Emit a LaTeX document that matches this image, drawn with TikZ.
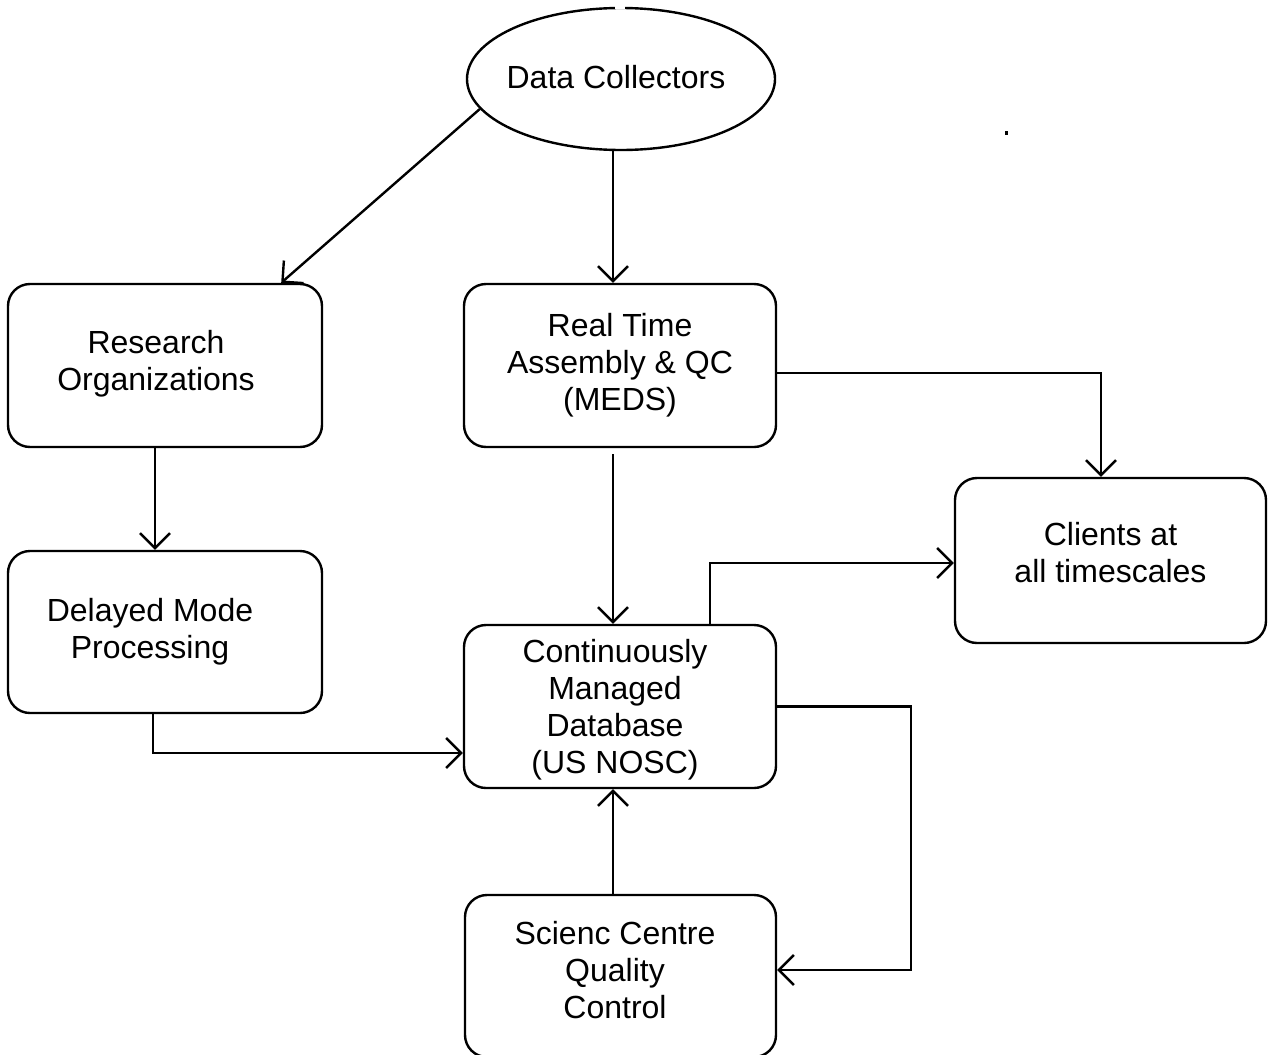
\documentclass[tikz,border=0pt]{standalone}
\usepackage{fontspec}
\setmainfont{Liberation Sans}
\usetikzlibrary{arrows.meta,shapes.geometric,calc}
\begin{document}
\begin{tikzpicture}[x=1pt,y=-1pt,line width=2.4pt,
  lbl/.style={align=center,inner sep=0pt,font=\fontsize{32}{37}\selectfont},
  box/.style={draw,rounded corners=22pt,minimum width=312pt,minimum height=163pt,inner sep=0pt},
  oval/.style={draw,ellipse,minimum width=308pt,minimum height=142pt,inner sep=0pt},
  arr/.style={-{Straight Barb[length=15pt,width=30pt,line width=2.4pt]}}]
\useasboundingbox (0,0) rectangle (1272,1055);
\node[oval,label={[lbl,xshift=-5pt,yshift=2pt]center:Data Collectors}] (dc) at (621,79) {};
\node[box,minimum width=314pt,label={[lbl,xshift=-9pt,yshift=2pt]center:Research\\Organizations}] (ro) at (165,365.5) {};
\node[box,label={[lbl]center:Real Time\\Assembly \& QC\\(MEDS)}] (rt) at (620,365.5) {};
\node[box,minimum width=311pt,minimum height=165pt,label={[lbl,yshift=8pt]center:Clients at\\all timescales}] (cl) at (1110.5,560.5) {};
\node[box,minimum width=314pt,minimum height=162pt,label={[lbl,xshift=-15pt]center:Delayed Mode\\Processing}] (dm) at (165,632) {};
\node[box,label={[lbl,xshift=-5pt,yshift=-3pt]center:Continuously\\Managed\\Database\\(US NOSC)}] (cm) at (620,706.5) {};
\node[box,minimum width=311pt,minimum height=162pt,label={[lbl,xshift=-5.5pt,yshift=6pt]center:Scienc Centre\\Quality\\Control}] (sc) at (620.5,976) {};
\draw[white,line width=4pt] ($(dc.north)+(-6,0)$) -- ($(dc.north)+(4,0)$);
\draw[arr] (dc.192) -- ($(ro.north east)+(-42,0)$);
\draw[arr] ($(dc.south)+(-8,0)$) -- ($(rt.north)+(-7,0)$);
\draw[arr] ($(rt.south)+(-7,6)$) -- ($(cm.north)+(-7,0)$);
\draw[arr] ($(rt.east)+(0,7.5)$) -| ($(cl.north)+(-9.5,0)$);
\draw[arr] ($(ro.south)+(-10,0)$) -- ($(dm.north)+(-10,0)$);
\draw[arr] ($(dm.south)+(-12,0)$) |- ($(cm.west)+(0,46.5)$);
\draw[arr] ($(cm.north)+(90,0)$) |- ($(cl.west)+(0,2.5)$);
\draw[arr] (cm.east) -- ++(134,0) |- ($(sc.east)+(0,-6)$);
\draw[arr] ($(sc.north)+(-7.5,0)$) -- ($(cm.south)+(-7,0)$);
\fill (1004.5,130.5) rectangle (1007.5,134.5);
\end{tikzpicture}
\end{document}
